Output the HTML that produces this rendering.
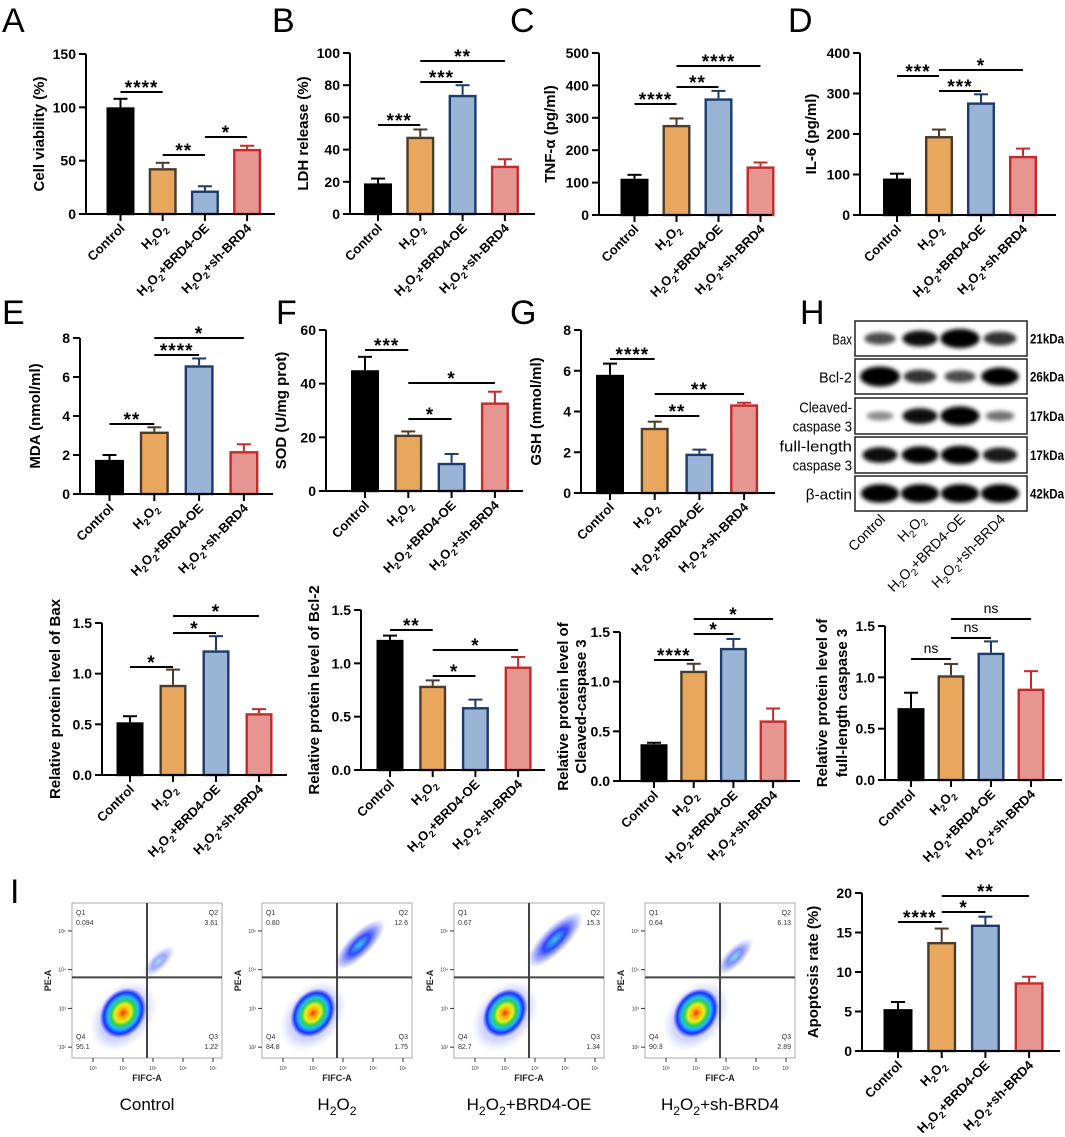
<!DOCTYPE html>
<html><head><meta charset="utf-8"><style>
html,body{margin:0;padding:0;background:#fff;}
svg{display:block;font-family:"Liberation Sans",Arial,sans-serif;}
</style></head><body>
<svg id="fig" width="1065" height="1137" viewBox="0 0 1065 1137" xmlns="http://www.w3.org/2000/svg">
<defs>
<filter id="blur2" x="-50%" y="-50%" width="200%" height="200%"><feGaussianBlur stdDeviation="2.2"/></filter>
<radialGradient id="core">
<stop offset="0" stop-color="#ff2a00"/><stop offset="0.18" stop-color="#ffb000"/><stop offset="0.35" stop-color="#e8f020"/>
<stop offset="0.5" stop-color="#30d050"/><stop offset="0.65" stop-color="#20b8ff"/><stop offset="0.82" stop-color="#1a30ff"/><stop offset="1" stop-color="#3040ff" stop-opacity="0"/>
</radialGradient>
<radialGradient id="halo"><stop offset="0" stop-color="#2a3cff" stop-opacity="0.55"/><stop offset="0.7" stop-color="#5060ff" stop-opacity="0.25"/><stop offset="1" stop-color="#8090ff" stop-opacity="0"/></radialGradient>
<radialGradient id="q2g"><stop offset="0" stop-color="#20c0e0"/><stop offset="0.4" stop-color="#1a30ff"/><stop offset="1" stop-color="#5060ff" stop-opacity="0"/></radialGradient>
</defs>
<g id="panels"></g>
</svg>
<script>
const NS='http://www.w3.org/2000/svg';
const root=document.getElementById('panels');
const cats=['Control','H2O2','H2O2+BRD4-OE','H2O2+sh-BRD4'];
// Bar data
const valsA=[100,43,22,61]; const errA=[8,5,4,3];
const valsB=[19,48,74,30]; const errB=[3,4.5,6,4];
const valsC=[112,278,360,150]; const errC=[12,20,23,12];
const valsD=[90,195,278,146]; const errD=[12,16,20,18];
const valsE=[1.75,3.2,6.6,2.2]; const errE=[0.25,0.22,0.35,0.35];
const valsF=[45,21,10.5,33]; const errF=[5,1.2,3.3,4];
const valsG=[5.8,3.2,1.93,4.35]; const errG=[0.55,0.3,0.2,0.08];
const valsBax=[0.52,0.89,1.23,0.61]; const errBax=[0.06,0.15,0.14,0.04];
const valsBcl=[1.22,0.79,0.59,0.97]; const errBcl=[0.04,0.05,0.07,0.09];
const valsCas=[0.37,1.11,1.34,0.61]; const errCas=[0.015,0.07,0.09,0.12];
const valsFul=[0.70,1.02,1.24,0.89]; const errFul=[0.15,0.11,0.11,0.17];
const valsApo=[5.3,13.8,16.0,8.7]; const errApo=[0.9,1.7,1.0,0.7];
// Flow data (quadrant percentages)
const flowNames=['Control','H2O2','H2O2+BRD4-OE','H2O2+sh-BRD4'];
const q1=['0.094','0.80','0.67','0.64'];
const q2=['3.61','12.6','15.3','6.13'];
const q3=['1.22','1.75','1.34','2.89'];
const q4=['95.1','84.8','82.7','90.3'];
// Western blot band intensities (lanes: Control, H2O2, OE, sh)
const blotProteins=['Bax','Bcl-2','Cleaved-caspase 3','full-length caspase 3','β-actin'];
const blotKda=['21kDa','26kDa','17kDa','17kDa','42kDa'];
const bandBax=[0.45,0.7,0.95,0.55];
const bandBcl=[1.0,0.55,0.45,0.85];
const bandCas=[0.2,0.7,0.95,0.3];
const bandFul=[0.7,0.8,0.9,0.65];
const bandAct=[0.9,0.9,0.9,0.9];

const fills=['#000000','#e9a75e','#9ab4d6','#e79590'];
const strokes=['#000000','#4a3b2a','#1c3a6b','#c42a2a'];

function el(tag,attrs,parent){const e=document.createElementNS(NS,tag);for(const k in attrs)e.setAttribute(k,attrs[k]);(parent||root).appendChild(e);return e;}
function subText(parent,str,size){
  let prevWasSub=false;
  for(let i=0;i<str.length;i++){
    const ch=str[i];
    const isSub=(ch==='2'&&i>0&&(str[i-1]==='H'||str[i-1]==='O'));
    const t=document.createElementNS(NS,'tspan');
    if(isSub&&!prevWasSub){t.setAttribute('dy',size*0.28);t.setAttribute('font-size',size*0.72);}
    else if(isSub){t.setAttribute('font-size',size*0.72);}
    else if(prevWasSub){t.setAttribute('dy',-size*0.28);}
    t.textContent=ch;parent.appendChild(t);prevWasSub=isSub;
  }
}

function barChart(o){
  const g=el('g',{});
  
  
  const ys=v=>o.y0-v/o.max*(o.y0-o.yT);
  const xs=i=>o.c0+i*o.dx;
  o.vals.forEach((v,i)=>{
    const x=xs(i),bw=o.bw;
    const top=ys(v+o.errs[i]);
    const l=el('line',{x1:x,x2:x,y1:ys(v),y2:top,stroke:strokes[i],'stroke-width':2},g);
    
    const c=el('line',{x1:x-7,x2:x+7,y1:top,y2:top,stroke:strokes[i],'stroke-width':2},g);
    
    const r=el('rect',{x:x-bw/2+1.2,y:ys(v)+1.2,width:bw-2.4,height:Math.max(0,o.y0-ys(v)-1.2),fill:fills[i],stroke:strokes[i],'stroke-width':2.4},g);
    
  });
  const ya=el('line',{x1:o.ax,x2:o.ax,y1:o.yT,y2:o.y0+1,stroke:'#000','stroke-width':2},g);
  
  const xa=el('line',{x1:o.ax-1,x2:o.end,y1:o.y0,y2:o.y0,stroke:'#000','stroke-width':2},g);
  
  for(let t=0;t<=o.max+1e-9;t+=o.step){
    const y=ys(t);
    el('line',{x1:o.ax-7,x2:o.ax,y1:y,y2:y,stroke:'#000','stroke-width':2},g);
    const tx=el('text',{x:o.ax-10,y:y+5,'text-anchor':'end','font-size':14,'font-weight':'bold'},g);
    
    tx.textContent=o.dec?t.toFixed(1):Math.round(t);
  }
  cats.forEach((c,i)=>{
    const x=xs(i);
    el('line',{x1:x,x2:x,y1:o.y0,y2:o.y0+7,stroke:'#000','stroke-width':2},g);
    const t=el('text',{transform:`translate(${x+5},${o.y0+15}) rotate(-45)`,'text-anchor':'end','font-size':13,'font-weight':'bold'},g);
    
    subText(t,c,13);
  });
  o.title.forEach((ln,k)=>{
    const t=el('text',{transform:`translate(${o.ax+o.toff[k]},${(o.yT+o.y0)/2}) rotate(-90)`,'text-anchor':'middle','font-size':15,'font-weight':'bold'},g);
    
    t.textContent=ln;
  });
  o.br.forEach(b=>{
    const x1=xs(b[0]),x2=xs(b[1]);
    const l=el('line',{x1:x1,x2:x2,y1:b[2],y2:b[2],stroke:'#000','stroke-width':2},g);
    
    const ns=b[3]==='ns';
    const t=el('text',{x:(x1+x2)/2,y:ns?b[2]-6:b[2]+2,'text-anchor':'middle','font-size':ns?14:19,'font-weight':ns?'normal':'bold','letter-spacing':ns?0:1},g);
    
    t.textContent=b[3];
  });
}

barChart({name:'chart-a-cell-viability',vals:valsA,errs:errA,ax:86,y0:214,yT:54,max:150,step:50,c0:120.5,dx:42.2,end:275,bw:28,title:['Cell viability (%)'],toff:[-42],
 br:[[0,1,92,'****'],[1,2,155,'**'],[2,3,137,'*']]});
barChart({name:'chart-b-ldh',vals:valsB,errs:errB,ax:350,y0:214,yT:53,max:100,step:20,c0:378,dx:42.3,end:535,bw:28,title:['LDH release (%)'],toff:[-42],
 br:[[0,1,125,'***'],[1,2,82,'***'],[1,3,61,'**']]});
barChart({name:'chart-c-tnf',vals:valsC,errs:errC,ax:599,y0:215,yT:53,max:500,step:100,c0:634.5,dx:42,end:772,bw:28,title:['TNF-α (pg/ml)'],toff:[-44],
 br:[[0,1,104,'****'],[1,2,87,'**'],[1,3,66,'****']]});
barChart({name:'chart-d-il6',vals:valsD,errs:errD,ax:860,y0:215,yT:53,max:400,step:100,c0:897,dx:42,end:1056,bw:28,title:['IL-6 (pg/ml)'],toff:[-44],
 br:[[0,1,76,'***'],[1,2,91,'***'],[1,3,70,'*']]});
barChart({name:'chart-e-mda',vals:valsE,errs:errE,ax:80,y0:494,yT:338,max:8,step:2,c0:109.5,dx:44.8,end:273,bw:29,title:['MDA (nmol/ml)'],toff:[-40],
 br:[[0,1,424,'**'],[1,2,355,'****'],[1,3,338,'*']]});
barChart({name:'chart-f-sod',vals:valsF,errs:errF,ax:326,y0:491,yT:330,max:60,step:20,c0:365,dx:43.3,end:523,bw:28,title:['SOD (U/mg prot)'],toff:[-40],
 br:[[0,1,350,'***'],[1,3,383,'*'],[1,2,419,'*']]});
barChart({name:'chart-g-gsh',vals:valsG,errs:errG,ax:581,y0:493,yT:330,max:8,step:2,c0:610,dx:44.7,end:775,bw:28,title:['GSH (mmol/ml)'],toff:[-40],
 br:[[0,1,359,'****'],[1,3,394,'**'],[1,2,416,'**']]});
barChart({name:'chart-bax',vals:valsBax,errs:errBax,ax:102,y0:775,yT:623,max:1.5,step:0.5,dec:1,c0:130,dx:43,end:287,bw:27,title:['Relative protein level of Bax'],toff:[-42],
 br:[[0,1,667,'*'],[1,2,633,'*'],[1,3,616,'*']]});
barChart({name:'chart-bcl2',vals:valsBcl,errs:errBcl,ax:361,y0:770,yT:610,max:1.5,step:0.5,dec:1,c0:390,dx:42.7,end:545,bw:27,title:['Relative protein level of Bcl-2'],toff:[-42],
 br:[[0,1,630,'**'],[1,2,676,'*'],[1,3,650,'*']]});
barChart({name:'chart-cleaved-caspase3',vals:valsCas,errs:errCas,ax:620,y0:781,yT:632,max:1.5,step:0.5,dec:1,c0:654,dx:39.7,end:800,bw:27,title:['Relative protein level of','Cleaved-caspase 3'],toff:[-52,-34],
 br:[[0,1,660,'****'],[1,2,634,'*'],[1,3,619,'*']]});
barChart({name:'chart-full-caspase3',vals:valsFul,errs:errFul,ax:885,y0:780,yT:626,max:1.5,step:0.5,dec:1,c0:911,dx:40,end:1062,bw:27,title:['Relative protein level of','full-length caspase 3'],toff:[-58,-38],
 br:[[0,1,659,'ns'],[1,2,638,'ns'],[1,3,619,'ns']]});
barChart({name:'chart-i-apoptosis',vals:valsApo,errs:errApo,ax:862,y0:1051,yT:893,max:20,step:5,c0:898,dx:43.7,end:1060,bw:29,title:['Apoptosis rate (%)'],toff:[-44],
 br:[[0,1,922,'****'],[1,2,912,'*'],[1,3,896,'**']]});

const letters=[['A',2,32],['B',272,32],['C',510,32],['D',788,32],['E',2,324],['F',276,324],['G',510,324],['H',800,324],['I',10,903]];
letters.forEach(l=>{
  const t=el('text',{x:l[1],y:l[2],'font-size':34});
  
  
  t.textContent=l[0];
});

// Western blot
(function(){
  const g=el('g',{});
  
  
  const bx=855,bw=172;
  const rows=[[321,35],[359,35],[398,36],[437,36],[476,35]];
  const bands=[bandBax,bandBcl,bandCas,bandFul,bandAct];
  const lanes=[880,920,960,1000];
  rows.forEach((r,k)=>{
    const rc=el('rect',{x:bx,y:r[0],width:bw,height:r[1],fill:'#fff',stroke:'#222','stroke-width':1.5},g);
    
    bands[k].forEach((v,i)=>{
      const e=el('ellipse',{cx:lanes[i],cy:r[0]+r[1]/2,rx:12+8*v,ry:3+7*v,fill:'#000','fill-opacity':Math.min(1,0.25+v),filter:'url(#blur2)'},g);
      
    });
    const name=blotProteins[k];
    const parts=name==='Cleaved-caspase 3'?['Cleaved-','caspase 3']:name==='full-length caspase 3'?['full-length','caspase 3']:[name];
    parts.forEach((p,j)=>{
      const t=el('text',{x:bx-3,y:r[0]+r[1]/2+6+(parts.length>1?(j-0.5)*19:0),'text-anchor':'end','font-size':15,'textLength':p.length*6.6,'lengthAdjust':'spacingAndGlyphs'},g);
      
      t.textContent=p;
    });
    const kt=el('text',{x:bx+bw+3,y:r[0]+r[1]/2+5,'font-size':14,'font-weight':'bold','textLength':34,'lengthAdjust':'spacingAndGlyphs'},g);
    
    kt.textContent=blotKda[k];
  });
  cats.forEach((c,i)=>{
    const t=el('text',{transform:`translate(${lanes[i]+6},${520}) rotate(-45)`,'text-anchor':'end','font-size':14},g);
    
    subText(t,c,14);
  });
})();

// Flow cytometry plots
(function(){
  const px=[72,262,454,645];
  const py=903,pw=150,ph=155;
  flowNames.forEach((nm,k)=>{
    const g=el('g',{});
    
    
    const x0=px[k];
    el('rect',{x:x0,y:py,width:pw,height:ph,fill:'#fff',stroke:'#aaa','stroke-width':1},g);
    const cx=x0+pw*0.34,cy=py+ph*0.71;
    const q2v=parseFloat(q2[k]);
    const q4v=parseFloat(q4[k]);
    el('ellipse',{cx:cx-2,cy:cy+2,rx:40,ry:28,transform:`rotate(-50 ${cx} ${cy})`,fill:'url(#halo)'},g);
    const q2x=x0+pw*(0.55+q2v*0.008),q2y=py+ph*(0.42-q2v*0.012);
    const q2c=el('ellipse',{cx:q2x,cy:q2y,rx:16+q2v*1.4,ry:7+q2v*0.4,transform:`rotate(-45 ${q2x} ${q2y})`,fill:'url(#q2g)','fill-opacity':Math.min(0.9,0.25+q2v/20)},g);
    
    const core=el('ellipse',{cx:cx,cy:cy,rx:12+q4v*0.1,ry:22+q4v*0.05,transform:`rotate(35 ${cx} ${cy})`,fill:'url(#core)'},g);
    
    el('line',{x1:x0+pw*0.5,x2:x0+pw*0.5,y1:py,y2:py+ph,stroke:'#444','stroke-width':2},g);
    el('line',{x1:x0,x2:x0+pw,y1:py+ph*0.48,y2:py+ph*0.48,stroke:'#444','stroke-width':2},g);
    const lab=(s,x,y,a)=>{const t=el('text',{x:x,y:y,'font-size':7,fill:'#333','text-anchor':a||'start'},g);t.textContent=s;};
    lab('Q1',x0+4,py+12);lab(q1[k],x0+4,py+22);
    lab('Q2',x0+pw-4,py+12,'end');lab(q2[k],x0+pw-4,py+22,'end');
    lab('Q4',x0+4,py+ph-19);lab(q4[k],x0+4,py+ph-9);
    lab('Q3',x0+pw-4,py+ph-19,'end');lab(q3[k],x0+pw-4,py+ph-9,'end');
    ['2','3','4','5'].forEach((e,j)=>{const y=py+ph*(0.93-j*0.25);el('line',{x1:x0-4,x2:x0,y1:y,y2:y,stroke:'#333'},g);const t=el('text',{x:x0-6,y:y+2,'font-size':5,'text-anchor':'end',fill:'#333'},g);t.textContent='10'+['²','³','⁴','⁵'][j];});
    ['3','4','5','6','7'].forEach((e,j)=>{const x=x0+pw*(0.14+j*0.2);el('line',{x1:x,x2:x,y1:py+ph,y2:py+ph+4,stroke:'#333'},g);const t=el('text',{x:x,y:py+ph+12,'font-size':5,'text-anchor':'middle',fill:'#333'},g);t.textContent='10'+['³','⁴','⁵','⁶','⁷'][j];});
    const xt=el('text',{x:x0+pw/2,y:py+ph+23,'font-size':9,'font-weight':'bold','text-anchor':'middle',fill:'#222'},g);
    xt.textContent='FIFC-A';
    const yt=el('text',{transform:`translate(${x0-21},${py+ph/2}) rotate(-90)`,'font-size':9,'font-weight':'bold','text-anchor':'middle',fill:'#222'},g);
    yt.textContent='PE-A';
    const tt=el('text',{x:x0+pw/2,y:1110,'font-size':17,'text-anchor':'middle'},g);
    
    subText(tt,nm,17);
  });
})();
</script>
</body></html>
